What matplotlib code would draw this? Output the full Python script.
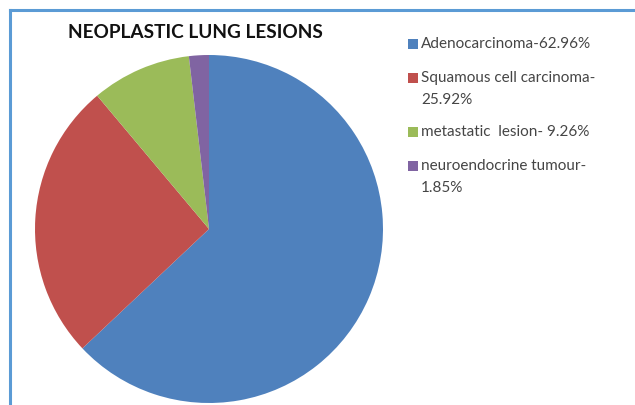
import matplotlib
matplotlib.use("Agg")
import matplotlib.pyplot as plt
from matplotlib.patches import Rectangle
from matplotlib.lines import Line2D

categories = ["Adenocarcinoma", "Squamous cell carcinoma", "metastatic lesion", "neuroendocrine tumour"]
values = [62.96, 25.92, 9.26, 1.85]
legend_labels = ["Adenocarcinoma-62.96%", "Squamous cell carcinoma-\n25.92%",
                 "metastatic  lesion- 9.26%", "neuroendocrine tumour-\n1.85%"]
colors = ["#4F81BD", "#C0504D", "#9BBB59", "#8064A2"]
title = "NEOPLASTIC LUNG LESIONS"

W, H = 635, 405
fig = plt.figure(figsize=(W / 100, H / 100), dpi=100)
fig.patch.set_facecolor("white")

def fx(px):
    return px / W

def fy(py):
    return 1 - py / H

# pie axes: bbox in pixels (35,55)-(383,403)
ax = fig.add_axes([fx(35), fy(403), 348 / W, 348 / H])
ax.pie(values, colors=colors, startangle=90, counterclock=False, radius=1,
       wedgeprops=dict(linewidth=0))
ax.set_xlim(-1, 1)
ax.set_ylim(-1, 1)
ax.set_aspect("equal")
ax.axis("off")

# border (top + left)
bc = "#5B9BD5"
fig.add_artist(Line2D([fx(10), fx(W)], [fy(10), fy(10)], color=bc, lw=2.2, transform=fig.transFigure))
fig.add_artist(Line2D([fx(10), fx(10)], [fy(10), fy(H)], color=bc, lw=2.2, transform=fig.transFigure))

# title
fig.text(fx(68), fy(32), title, fontsize=13.7, fontweight="bold", family="Lato",
         color="#111111", ha="left", va="center")

# legend
ys = [44, 78, 132, 166]
for lab, col, y in zip(legend_labels, colors, ys):
    fig.add_artist(Rectangle((fx(408), fy(y + 5)), 10 / W, 10 / H, facecolor=col,
                             edgecolor="none", transform=fig.transFigure))
    fig.text(fx(421), fy(y - 7), lab, fontsize=11, family="Lato", color="#454545",
             ha="left", va="top", linespacing=1.75)

fig.savefig("out.png", dpi=100)
